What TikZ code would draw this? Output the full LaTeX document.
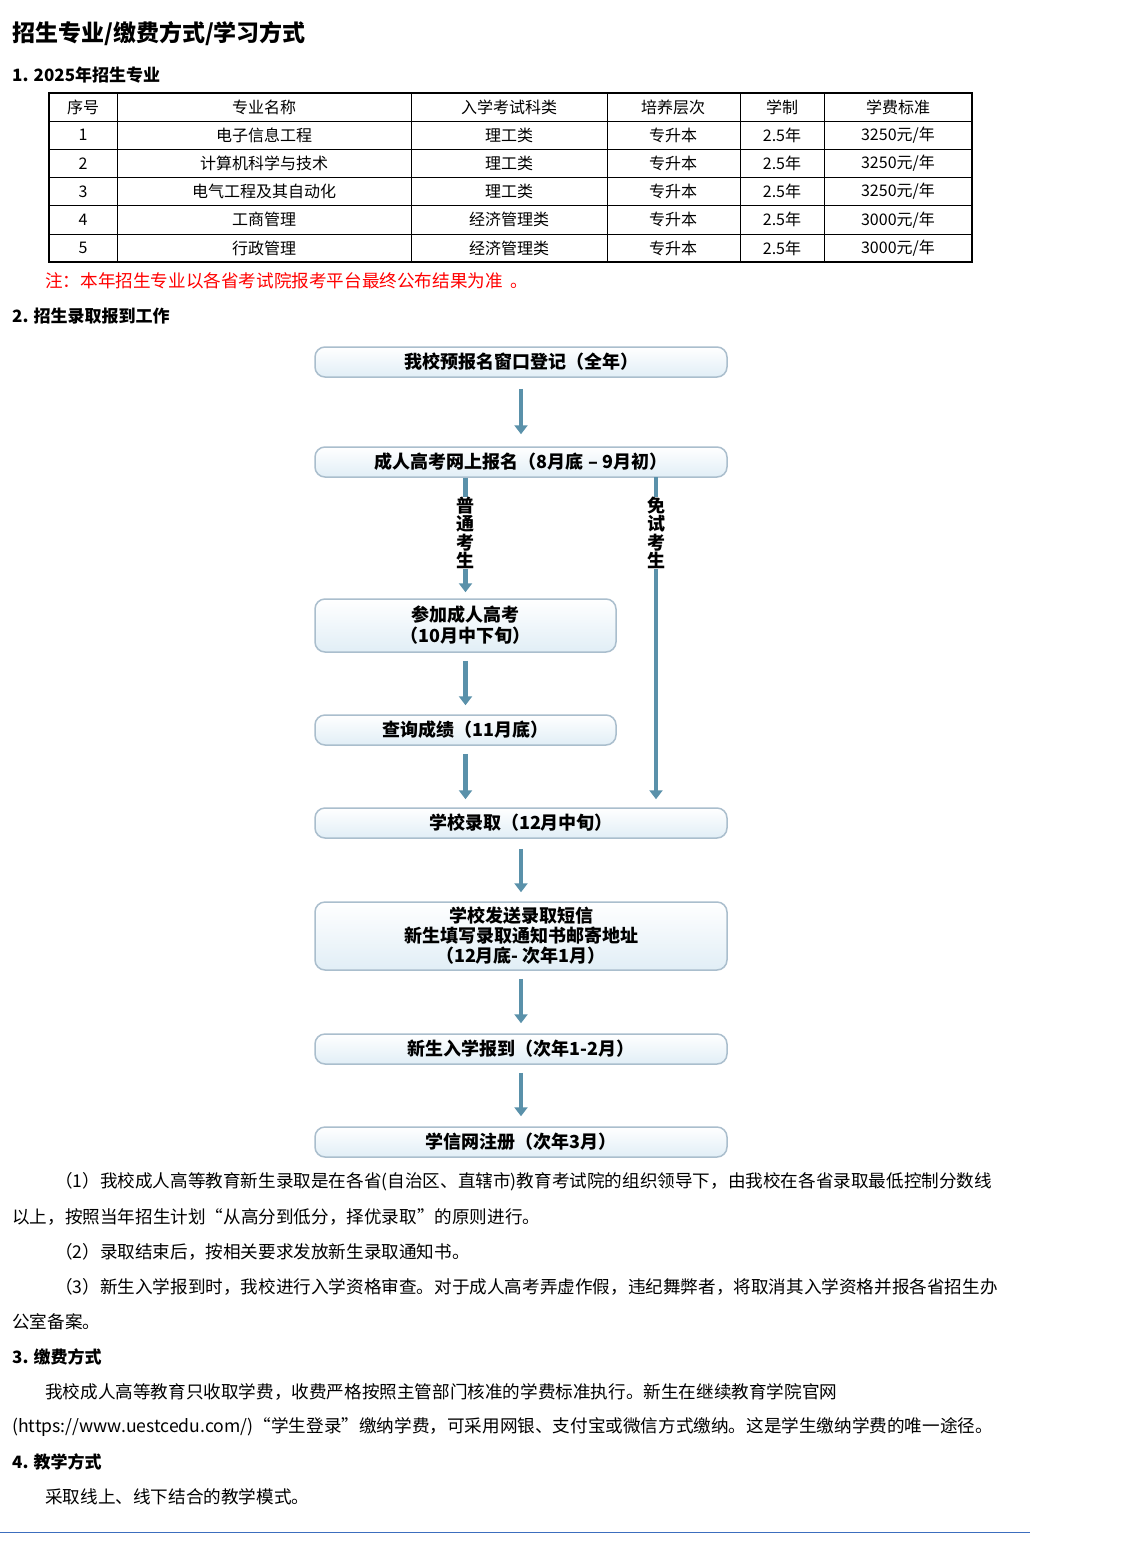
\documentclass[tikz,border=0pt]{standalone}
\usepackage{fontspec}
\setmainfont{Noto Sans CJK SC}
\usetikzlibrary{positioning, arrows.meta}
\definecolor{boxline}{RGB}{170,190,205}
\definecolor{boxfill}{RGB}{225,238,246}
\definecolor{flowarrow}{RGB}{90,145,170}
\tikzset{
  stepbox/.style = {draw=boxline, line width=1.5pt, rounded corners=10pt,
    top color=white, bottom color=boxfill, font=\fontsize{18}{21}\selectfont\bfseries, align=center},
  flowarrow/.style = {draw=flowarrow, line width=4.5pt, -{Triangle[length=9pt,width=13pt]}},
  body/.style = {anchor=west, font=\fontsize{17.6}{20}\selectfont, inner sep=0pt},
  head/.style = {anchor=west, font=\fontsize{17}{20}\selectfont\bfseries, inner sep=0pt},
  cell/.style = {font=\fontsize{16}{18}\selectfont, inner sep=0pt}
}
\begin{document}
\begin{tikzpicture}[x=1pt, y=-1pt]
    \useasboundingbox[fill=white] (0,0) rectangle (1136,1545);
    % headings
    \node[head, font=\fontsize{23}{26}\selectfont\bfseries] (title) at (12,34) {招生专业/缴费方式/学习方式};
    \node[head] (sec1) at (12,75) {1. 2025年招生专业};
    % table
    \draw[line width=1.5pt] (49,93) rectangle (972,262);
    \foreach \y in {121,149,177,205,234} \draw[line width=1pt] (49,\y) -- (972,\y);
    \foreach \x in {117,411,607,740,824} \draw[line width=1pt] (\x,93) -- (\x,262);
    \foreach \t [count=\i] in {序号,专业名称,入学考试科类,培养层次,学制,学费标准} {
      \pgfmathsetmacro{\cx}{{83,264,509,673,782,898}[\i-1]}
      \node[cell] (th\i) at (\cx,107) {\t};
    }
    \foreach \n/\m/\k/\f [count=\r] in {1/电子信息工程/理工类/3250,2/计算机科学与技术/理工类/3250,
        3/电气工程及其自动化/理工类/3250,4/工商管理/经济管理类/3000,5/行政管理/经济管理类/3000} {
      \pgfmathsetmacro{\cy}{107+28.2*\r}
      \node[cell] (n\r) at (83,\cy) {\n};
      \node[cell] (m\r) at (264,\cy) {\m};
      \node[cell] (k\r) at (509,\cy) {\k};
      \node[cell] (c\r) at (673,\cy) {专升本};
      \node[cell] (y\r) at (782,\cy) {2.5年};
      \node[cell] (f\r) at (898,\cy) {\f 元/年};
    }
    \node[body, text=red] (note) at (45,281) {注：本年招生专业以各省考试院报考平台最终公布结果为准\ \ 。};
    \node[head] (sec2) at (12,316) {2. 招生录取报到工作};
    % flow chart
    \node[stepbox, minimum width=412pt, minimum height=30pt] (reg) at (521,362) {我校预报名窗口登记（全年）};
    \node[stepbox, minimum width=412pt, minimum height=30pt] (online) at (521,462) {成人高考网上报名（8月底 – 9月初）};
    \node[stepbox, minimum width=301pt, minimum height=53pt] (exam) at (465.5,625.5) {参加成人高考\\（10月中下旬）};
    \node[stepbox, minimum width=301pt, minimum height=30pt] (score) at (465.5,730) {查询成绩（11月底）};
    \node[stepbox, minimum width=412pt, minimum height=30pt] (admit) at (521,823) {学校录取（12月中旬）};
    \node[stepbox, minimum width=412pt, minimum height=68pt, font=\fontsize{18}{20}\selectfont\bfseries] (notice) at (521,936) {学校发送录取短信\\新生填写录取通知书邮寄地址\\（12月底- 次年1月）};
    \node[stepbox, minimum width=412pt, minimum height=30pt] (enrol) at (521,1049) {新生入学报到（次年1-2月）};
    \node[stepbox, minimum width=412pt, minimum height=30pt] (chsi) at (521,1142) {学信网注册（次年3月）};
    \draw[flowarrow] ([yshift=-11pt]reg.south) -- ([yshift=12pt]online.north);
    \draw[flowarrow] (online.south -| exam) -- ([yshift=6pt]exam.north);
    \draw[flowarrow] (656,477) coordinate (free) -- ([yshift=8pt]free |- admit.north);
    \draw[flowarrow] ([yshift=-8pt]exam.south) -- ([yshift=9pt]score.north);
    \draw[flowarrow] ([yshift=-8pt]score.south) -- ([yshift=8pt]admit.north -| score);
    \draw[flowarrow] ([yshift=-10pt]admit.south) -- ([yshift=9pt]notice.north);
    \draw[flowarrow] ([yshift=-8pt]notice.south) -- ([yshift=10pt]enrol.north);
    \draw[flowarrow] ([yshift=-8pt]enrol.south) -- ([yshift=10pt]chsi.north);
    \node[fill=white, inner sep=0pt, align=center, font=\fontsize{18}{18.5}\selectfont\bfseries] (normal) at (465,533) {普\\通\\考\\生};
    \node[fill=white, inner sep=0pt, align=center, font=\fontsize{18}{18.5}\selectfont\bfseries] (exempt) at (656,533) {免\\试\\考\\生};
    % text
    \node[body] (p1) at (55,1182) {（1）我校成人高等教育新生录取是在各省(自治区、直辖市)教育考试院的组织领导下，由我校在各省录取最低控制分数线};
    \node[body] (p1b) at (12,1217) {以上，按照当年招生计划“从高分到低分，择优录取”的原则进行。};
    \node[body] (p2) at (55,1252) {（2）录取结束后，按相关要求发放新生录取通知书。};
    \node[body] (p3) at (55,1287) {（3）新生入学报到时，我校进行入学资格审查。对于成人高考弄虚作假，违纪舞弊者，将取消其入学资格并报各省招生办};
    \node[body] (p3b) at (12,1322) {公室备案。};
    \node[head] (sec3) at (12,1357) {3. 缴费方式};
    \node[body] (p4) at (45,1392) {我校成人高等教育只收取学费，收费严格按照主管部门核准的学费标准执行。新生在继续教育学院官网};
    \node[body] (p4b) at (12,1427) {(https://www.uestcedu.com/)“学生登录”缴纳学费，可采用网银、支付宝或微信方式缴纳。这是学生缴纳学费的唯一途径。};
    \node[head] (sec4) at (12,1462) {4. 教学方式};
    \node[body] (p5) at (45,1497) {采取线上、线下结合的教学模式。};
    \draw[draw={rgb,255:red,60;green,110;blue,190}, line width=1pt] (0,1532) -- (1030,1532);
\end{tikzpicture}
\end{document}
